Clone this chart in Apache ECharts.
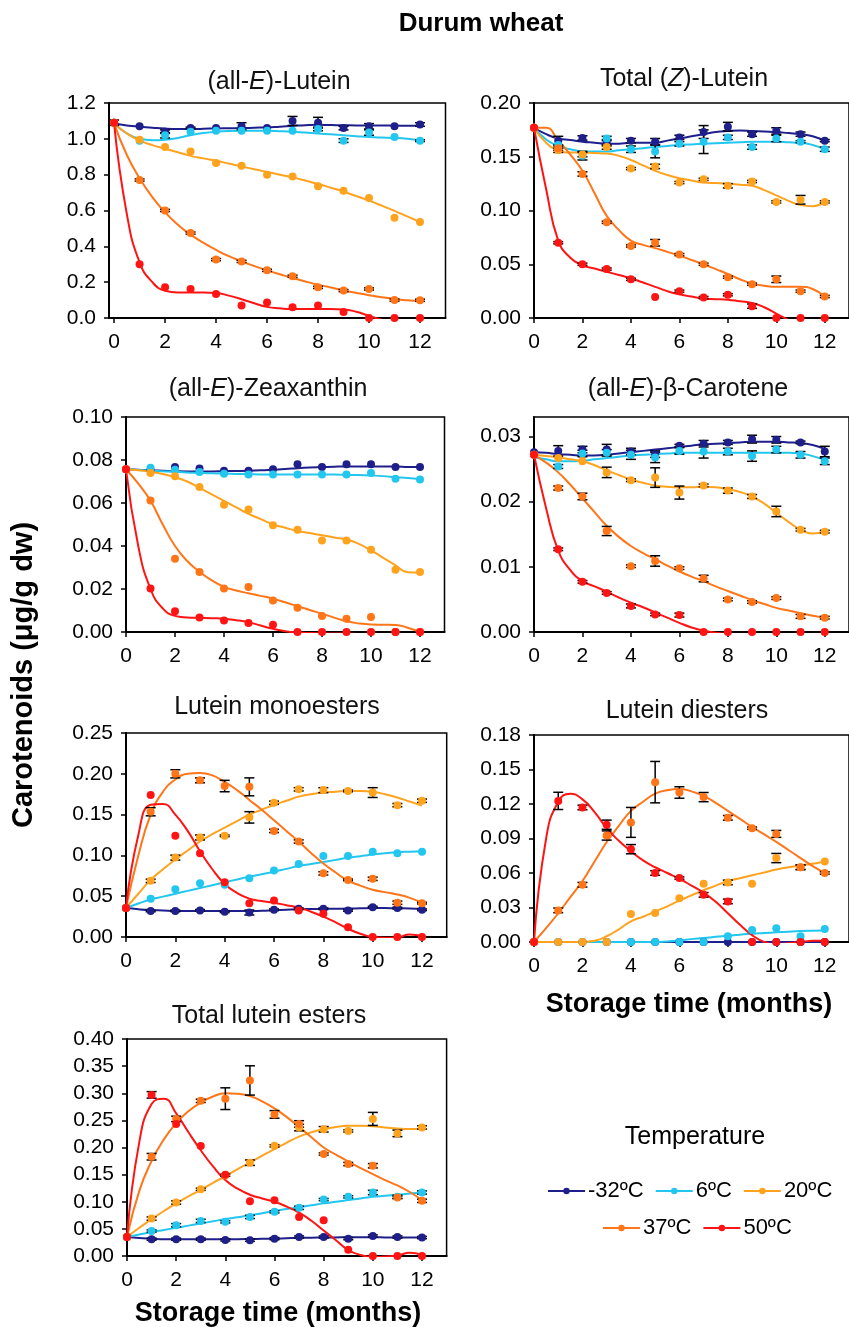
<!DOCTYPE html>
<html>
<head>
<meta charset="utf-8">
<script src="https://cdn.jsdelivr.net/npm/echarts@6/dist/echarts.min.js"></script>
<style>
  html, body { margin: 0; padding: 0; background: #fff; }
  #main { width: 849px; height: 1327px; }
</style>
</head>
<body>
<div id="main"></div>
<script>
const FONT = '"Liberation Sans", Arial, sans-serif';

// storage months, and the half-month positions where the fitted curves were read
const MONTHS = [0, 1, 2, 3, 4, 5, 6, 7, 8, 9, 10, 11, 12];
const CURVE_X = [0, 0.5, 1, 1.5, 2, 2.5, 3, 3.5, 4, 4.5, 5, 5.5, 6, 6.5, 7, 7.5, 8, 8.5, 9, 9.5, 10, 10.5, 11, 11.5, 12];
const MONTH_TICKS = [0, 2, 4, 6, 8, 10, 12];
const TEMPS = ['-32ºC', '6ºC', '20ºC', '37ºC', '50ºC'];
const COLORS = ['#1f1f8c', '#22c6ef', '#ffa31f', '#ff7518', '#ff1414'];
const NONE = [0, 0, 0, 0, 0, 0, 0, 0, 0, 0, 0, 0, 0];

// rows in every block: -32, 6, 20, 37, 50 ºC

// (all-E)-Lutein
const lutPts = [
  [1.09, 1.07, 1.04, 1.06, 1.06, 1.07, 1.06, 1.10, 1.09, 1.06, 1.07, 1.07, 1.08],
  [1.09, 0.99, 1.02, 1.04, 1.045, 1.045, 1.045, 1.045, 1.055, 0.99, 1.035, 1.01, 0.99],
  [1.09, 0.995, 0.955, 0.93, 0.865, 0.85, 0.80, 0.79, 0.735, 0.71, 0.67, 0.56, 0.536],
  [1.09, 0.77, 0.60, 0.474, 0.326, 0.316, 0.266, 0.233, 0.171, 0.153, 0.162, 0.10, 0.099],
  [1.09, 0.30, 0.171, 0.162, 0.134, 0.07, 0.087, 0.06, 0.07, 0.033, 0, 0, 0]
];
const lutFit = [
  [1.085, 1.075, 1.068, 1.062, 1.057, 1.055, 1.055, 1.056, 1.058, 1.059, 1.06, 1.062, 1.064, 1.068, 1.072, 1.076, 1.078, 1.077, 1.076, 1.075, 1.075, 1.074, 1.074, 1.073, 1.075],
  [1.085, 1.03, 1.0, 0.992, 0.995, 1.005, 1.02, 1.032, 1.04, 1.044, 1.045, 1.045, 1.045, 1.043, 1.04, 1.035, 1.03, 1.025, 1.02, 1.015, 1.01, 1.007, 1.005, 1.0, 0.99],
  [1.085, 1.03, 0.99, 0.965, 0.945, 0.925, 0.905, 0.891, 0.878, 0.862, 0.846, 0.83, 0.815, 0.8, 0.785, 0.767, 0.748, 0.727, 0.705, 0.681, 0.655, 0.627, 0.598, 0.567, 0.536],
  [1.085, 0.91, 0.78, 0.675, 0.59, 0.52, 0.465, 0.42, 0.38, 0.345, 0.316, 0.29, 0.266, 0.244, 0.223, 0.204, 0.186, 0.17, 0.154, 0.14, 0.127, 0.116, 0.106, 0.099, 0.093],
  [1.085, 0.58, 0.31, 0.2, 0.152, 0.143, 0.143, 0.143, 0.14, 0.125, 0.105, 0.082, 0.062, 0.054, 0.05, 0.05, 0.05, 0.05, 0.048, 0.035, 0.012, -0.01, -0.03, -0.05, -0.06]
];
const lutErr = [
  [0.015, 0, 0.01, 0.005, 0, 0.02, 0, 0.025, 0.03, 0.01, 0.015, 0, 0.01],
  [0, 0, 0.015, 0, 0, 0, 0, 0, 0.01, 0.01, 0.015, 0, 0.005],
  NONE,
  [0, 0.006, 0.006, 0.006, 0.006, 0.006, 0.006, 0.006, 0.006, 0.006, 0.006, 0.006, 0.006],
  NONE
];

// Total (Z)-Lutein
const zlutPts = [
  [0.177, 0.165, 0.1675, 0.163, 0.165, 0.164, 0.168, 0.173, 0.178, 0.171, 0.174, 0.171, 0.165],
  [0.177, 0.161, 0.151, 0.167, 0.157, 0.155, 0.162, 0.164, 0.168, 0.159, 0.167, 0.164, 0.157],
  [0.177, 0.156, 0.152, 0.159, 0.139, 0.141, 0.126, 0.129, 0.123, 0.127, 0.108, 0.11, 0.108],
  [0.177, 0.158, 0.134, 0.089, 0.067, 0.070, 0.059, 0.050, 0.038, 0.0315, 0.036, 0.025, 0.020],
  [0.177, 0.070, 0.050, 0.0455, 0.036, 0.0195, 0.025, 0.019, 0.0216, 0.011, 0, 0, 0]
];
const zlutFit = [
  [0.177, 0.171, 0.167, 0.1655, 0.164, 0.163, 0.162, 0.1622, 0.163, 0.163, 0.163, 0.165, 0.167, 0.169, 0.171, 0.173, 0.174, 0.1745, 0.174, 0.1735, 0.173, 0.172, 0.171, 0.169, 0.165],
  [0.177, 0.166, 0.16, 0.157, 0.155, 0.155, 0.155, 0.156, 0.157, 0.158, 0.159, 0.16, 0.161, 0.1615, 0.162, 0.1625, 0.163, 0.1635, 0.164, 0.164, 0.164, 0.1635, 0.163, 0.161, 0.157],
  [0.177, 0.163, 0.156, 0.154, 0.154, 0.1535, 0.153, 0.151, 0.147, 0.142, 0.137, 0.133, 0.13, 0.128, 0.126, 0.1255, 0.125, 0.124, 0.123, 0.119, 0.114, 0.109, 0.105, 0.104, 0.108],
  [0.177, 0.177, 0.165, 0.152, 0.137, 0.116, 0.095, 0.082, 0.072, 0.068, 0.065, 0.0615, 0.058, 0.054, 0.05, 0.0455, 0.041, 0.036, 0.032, 0.03, 0.029, 0.029, 0.029, 0.027, 0.02],
  [0.177, 0.12, 0.072, 0.056, 0.049, 0.046, 0.043, 0.04, 0.037, 0.033, 0.029, 0.025, 0.022, 0.02, 0.018, 0.0175, 0.017, 0.0155, 0.014, 0.01, 0.004, -0.002, -0.008, -0.012, -0.015]
];
const zlutErr = [
  [0, 0.004, 0.002, 0.003, 0.002, 0.003, 0.002, 0.006, 0.004, 0.002, 0.003, 0.002, 0.001],
  [0, 0, 0.004, 0.002, 0.003, 0.006, 0.002, 0.011, 0.002, 0.002, 0.003, 0.001, 0.002],
  [0, 0.002, 0.002, 0.002, 0.001, 0.002, 0.001, 0.001, 0.002, 0.001, 0.001, 0.004, 0.001],
  [0, 0.002, 0.002, 0.001, 0.001, 0.003, 0.001, 0.001, 0.001, 0.001, 0.003, 0.001, 0.001],
  [0, 0.001, 0.001, 0.001, 0.001, 0, 0.001, 0.001, 0.001, 0.002, 0, 0, 0]
];

// (all-E)-Zeaxanthin
const zeaPts = [
  [0.0757, 0.0755, 0.0767, 0.076, 0.075, 0.075, 0.0757, 0.078, 0.0767, 0.078, 0.078, 0.0767, 0.0767],
  [0.0757, 0.0764, 0.0755, 0.0744, 0.0736, 0.0733, 0.0733, 0.0733, 0.0733, 0.0733, 0.074, 0.0713, 0.0709],
  [0.0757, 0.074, 0.0724, 0.0674, 0.0592, 0.057, 0.0496, 0.0476, 0.0426, 0.0426, 0.0383, 0.029, 0.0279],
  [0.0757, 0.0612, 0.0341, 0.0279, 0.0202, 0.0209, 0.0147, 0.0113, 0.0074, 0.0062, 0.007, 0, 0],
  [0.0757, 0.0202, 0.0096, 0.0067, 0.0054, 0.0042, 0.0034, 0, 0, 0, 0, 0, 0]
];
const zeaFit = [
  [0.0757, 0.0755, 0.0752, 0.075, 0.0748, 0.0747, 0.0747, 0.0747, 0.0748, 0.0749, 0.075, 0.0752, 0.0755, 0.0758, 0.0762, 0.0765, 0.0767, 0.0769, 0.077, 0.077, 0.077, 0.077, 0.077, 0.0768, 0.0767],
  [0.0757, 0.0753, 0.075, 0.0748, 0.0745, 0.0742, 0.074, 0.0738, 0.0737, 0.0735, 0.0734, 0.0733, 0.0733, 0.0733, 0.0733, 0.0733, 0.0732, 0.0732, 0.0731, 0.073, 0.0728, 0.0725, 0.072, 0.0716, 0.071],
  [0.0757, 0.0752, 0.0745, 0.0735, 0.072, 0.07, 0.067, 0.064, 0.061, 0.058, 0.055, 0.0525, 0.05, 0.0485, 0.047, 0.046, 0.045, 0.044, 0.043, 0.041, 0.038, 0.0345, 0.031, 0.0278, 0.0277],
  [0.0757, 0.069, 0.061, 0.05, 0.04, 0.033, 0.028, 0.024, 0.021, 0.0193, 0.018, 0.0168, 0.0155, 0.0138, 0.012, 0.0102, 0.0085, 0.0067, 0.005, 0.004, 0.0035, 0.0034, 0.0033, 0.002, 0.0],
  [0.0757, 0.04, 0.02, 0.011, 0.0075, 0.0068, 0.0066, 0.0064, 0.0062, 0.0055, 0.0045, 0.003, 0.0015, 0.0004, -0.0002, -0.0005, -0.0006, -0.0007, -0.0008, -0.0009, -0.001, -0.001, -0.001, -0.001, -0.001]
];
const zeaErr = [NONE, NONE, NONE, NONE, NONE];

// (all-E)-β-Carotene
const carPts = [
  [0.0276, 0.0278, 0.028, 0.028, 0.0277, 0.0273, 0.0286, 0.0289, 0.0291, 0.0296, 0.0295, 0.0291, 0.0277],
  [0.0272, 0.0254, 0.0274, 0.0275, 0.0272, 0.0268, 0.0278, 0.0277, 0.0277, 0.027, 0.028, 0.0272, 0.0262],
  [0.0272, 0.0267, 0.0262, 0.0245, 0.0233, 0.0237, 0.0214, 0.0225, 0.0217, 0.0208, 0.0185, 0.0157, 0.0154],
  [0.0272, 0.0221, 0.0208, 0.0155, 0.0101, 0.0109, 0.0098, 0.0082, 0.005, 0.0046, 0.0052, 0.0024, 0.0022],
  [0.0272, 0.0127, 0.0077, 0.006, 0.004, 0.0027, 0.0026, 0, 0, 0, 0, 0, 0]
];
const carFit = [
  [0.0276, 0.0275, 0.0273, 0.0272, 0.0271, 0.0271, 0.0272, 0.0274, 0.0276, 0.0278, 0.028, 0.0282, 0.0284, 0.0286, 0.0288, 0.0289, 0.029, 0.0291, 0.0292, 0.0292, 0.0292, 0.0291, 0.029, 0.0287, 0.0281],
  [0.0268, 0.0265, 0.0262, 0.0262, 0.0263, 0.0265, 0.0267, 0.0269, 0.0271, 0.0272, 0.0273, 0.0274, 0.0275, 0.0275, 0.0275, 0.0275, 0.0275, 0.0275, 0.0275, 0.0275, 0.0275, 0.0275, 0.0274, 0.027, 0.0264],
  [0.0272, 0.027, 0.0268, 0.0265, 0.0262, 0.0256, 0.0248, 0.0241, 0.0234, 0.0229, 0.0225, 0.0223, 0.0222, 0.0222, 0.0223, 0.0222, 0.0219, 0.0215, 0.0208, 0.0197, 0.0183, 0.0169, 0.0157, 0.0151, 0.0155],
  [0.0272, 0.026, 0.0245, 0.0226, 0.0205, 0.0184, 0.0163, 0.0146, 0.0132, 0.0121, 0.0112, 0.0102, 0.0093, 0.0085, 0.0078, 0.007, 0.0063, 0.0056, 0.0049, 0.0043, 0.0037, 0.0033, 0.0029, 0.0025, 0.0022],
  [0.0272, 0.019, 0.0125, 0.0095, 0.0078, 0.007, 0.0062, 0.0053, 0.0045, 0.0038, 0.003, 0.0022, 0.0014, 0.0007, 0.0002, -0.0001, -0.0003, -0.0004, -0.0005, -0.0005, -0.0005, -0.0005, -0.0005, -0.0005, -0.0005]
];
const carErr = [
  [0, 0.0008, 0.0005, 0.0008, 0.0005, 0.0005, 0.0002, 0.0005, 0.0003, 0.0006, 0.0005, 0.0002, 0.0008],
  [0, 0.0003, 0.0005, 0.0005, 0.0007, 0.0008, 0.0005, 0.001, 0.0005, 0.0008, 0.0005, 0.0005, 0.0005],
  [0, 0, 0, 0.0008, 0.0002, 0.0015, 0.001, 0.0002, 0.0004, 0.0003, 0.0008, 0.0002, 0.0002],
  [0, 0.0003, 0.0005, 0.0007, 0.0002, 0.0008, 0.0002, 0.0005, 0.0002, 0.0002, 0.0002, 0.0003, 0.0002],
  [0, 0.0002, 0.0002, 0.0002, 0.0003, 0.0002, 0.0003, 0, 0, 0, 0, 0, 0]
];

// Lutein monoesters
const monoPts = [
  [0.0354, 0.032, 0.032, 0.0326, 0.031, 0.030, 0.0334, 0.0346, 0.0346, 0.0326, 0.0366, 0.0354, 0.0334],
  [0.0354, 0.0468, 0.0586, 0.066, 0.064, 0.072, 0.0814, 0.0896, 0.0993, 0.0993, 0.1046, 0.1026, 0.1046],
  [0.0354, 0.0688, 0.0973, 0.122, 0.124, 0.1466, 0.1645, 0.181, 0.18, 0.179, 0.177, 0.1616, 0.167],
  [0.0354, 0.1535, 0.200, 0.192, 0.185, 0.184, 0.13, 0.117, 0.078, 0.070, 0.0713, 0.042, 0.0415],
  [0.0354, 0.174, 0.124, 0.1026, 0.067, 0.0415, 0.0448, 0.0326, 0.0285, 0.0118, 0, 0, 0]
];
const monoFit = [
  [0.0354, 0.034, 0.033, 0.0325, 0.032, 0.032, 0.032, 0.0319, 0.0318, 0.0318, 0.0318, 0.0322, 0.0328, 0.0334, 0.034, 0.0343, 0.0345, 0.0347, 0.0348, 0.0352, 0.0355, 0.0354, 0.0352, 0.035, 0.0345],
  [0.0354, 0.041, 0.046, 0.0495, 0.053, 0.0565, 0.06, 0.0635, 0.067, 0.0705, 0.074, 0.077, 0.08, 0.0835, 0.087, 0.0895, 0.092, 0.0945, 0.097, 0.099, 0.101, 0.1025, 0.104, 0.1045, 0.105],
  [0.0354, 0.053, 0.07, 0.083, 0.095, 0.106, 0.117, 0.126, 0.134, 0.142, 0.15, 0.156, 0.162, 0.167, 0.172, 0.175, 0.177, 0.178, 0.179, 0.179, 0.178, 0.175, 0.171, 0.166, 0.161],
  [0.0354, 0.1, 0.15, 0.178, 0.193, 0.2, 0.201, 0.198, 0.19, 0.18, 0.168, 0.156, 0.143, 0.13, 0.117, 0.103, 0.09, 0.079, 0.069, 0.063, 0.058, 0.055, 0.052, 0.048, 0.042],
  [0.0354, 0.125, 0.162, 0.163, 0.15, 0.13, 0.105, 0.083, 0.065, 0.054, 0.047, 0.044, 0.042, 0.039, 0.036, 0.031, 0.025, 0.018, 0.01, 0.004, 0.0, -0.001, -0.0005, 0.003, 0.001]
];
const monoErr = [
  [0, 0.001, 0.001, 0.001, 0.001, 0.003, 0.001, 0.001, 0.001, 0.001, 0.001, 0.001, 0.001],
  NONE,
  [0, 0.002, 0.003, 0.003, 0.001, 0.007, 0.002, 0.002, 0.003, 0.001, 0.006, 0.002, 0.002],
  [0, 0.005, 0.005, 0.003, 0.007, 0.011, 0.002, 0.002, 0.002, 0.001, 0.002, 0.002, 0.001],
  NONE
];

// Lutein diesters
const diPts = [
  [0, 0, 0, 0, 0, 0, 0, 0, 0, 0, 0, 0, 0],
  [0, 0, 0, 0, 0, 0, 0, 0, 0.005, 0.0105, 0.012, 0.005, 0.0113],
  [0, 0, 0, 0, 0.0243, 0.0252, 0.038, 0.0506, 0.0518, 0.0506, 0.073, 0.065, 0.070],
  [0, 0.0275, 0.0498, 0.0926, 0.104, 0.139, 0.130, 0.126, 0.108, 0.099, 0.094, 0.065, 0.060],
  [0, 0.1227, 0.117, 0.102, 0.0807, 0.060, 0.0556, 0.041, 0.0353, 0, 0, 0, 0]
];
const diFit = [
  [0, 0, 0, 0, 0, 0, 0, 0, 0, 0, 0, 0, 0, 0, 0, 0, 0, 0, 0, 0, 0, 0, 0, 0, 0],
  [0, 0, 0, 0, 0, 0, 0, 0, 0, 0, 0, 0.0005, 0.0014, 0.0025, 0.0035, 0.0045, 0.0055, 0.0064, 0.0072, 0.0078, 0.0084, 0.009, 0.0095, 0.0098, 0.01],
  [0, 0, 0, 0, 0, 0.001, 0.005, 0.011, 0.018, 0.022, 0.0266, 0.031, 0.036, 0.0405, 0.045, 0.049, 0.053, 0.0555, 0.058, 0.0605, 0.063, 0.065, 0.0665, 0.068, 0.07],
  [0, 0.012, 0.025, 0.039, 0.053, 0.07, 0.087, 0.101, 0.114, 0.122, 0.129, 0.132, 0.133, 0.131, 0.127, 0.121, 0.114, 0.107, 0.1, 0.0935, 0.087, 0.08, 0.073, 0.066, 0.06],
  [0, 0.09, 0.122, 0.129, 0.124, 0.113, 0.099, 0.088, 0.079, 0.071, 0.065, 0.06, 0.055, 0.049, 0.043, 0.035, 0.025, 0.015, 0.006, 0.0, -0.002, -0.001, 0.0, 0.001, 0.001]
];
const diErr = [
  NONE,
  NONE,
  [0, 0, 0, 0, 0, 0, 0, 0, 0.002, 0, 0.004, 0.002, 0],
  [0, 0.002, 0.002, 0.004, 0.013, 0.018, 0.005, 0.004, 0.002, 0.001, 0.003, 0.002, 0.001],
  [0, 0.0075, 0.002, 0.004, 0.004, 0.002, 0.001, 0.002, 0.002, 0, 0, 0, 0]
];

// Total lutein esters
const estPts = [
  [0.035, 0.031, 0.031, 0.031, 0.0296, 0.029, 0.032, 0.035, 0.035, 0.032, 0.037, 0.035, 0.034],
  [0.035, 0.046, 0.0567, 0.0647, 0.063, 0.072, 0.0814, 0.0888, 0.104, 0.109, 0.117, 0.109, 0.117],
  [0.035, 0.069, 0.0986, 0.123, 0.149, 0.172, 0.203, 0.2367, 0.2336, 0.2305, 0.2527, 0.226, 0.237],
  [0.035, 0.183, 0.2527, 0.286, 0.290, 0.3236, 0.261, 0.2434, 0.188, 0.1695, 0.1664, 0.108, 0.1017],
  [0.035, 0.297, 0.2434, 0.2028, 0.150, 0.101, 0.1029, 0.072, 0.066, 0.0117, 0, 0, 0]
];
const estFit = [
  [0.035, 0.033, 0.032, 0.031, 0.031, 0.031, 0.031, 0.031, 0.031, 0.031, 0.0312, 0.0316, 0.032, 0.0328, 0.0335, 0.0338, 0.034, 0.0343, 0.0345, 0.0345, 0.0345, 0.0342, 0.034, 0.034, 0.034],
  [0.035, 0.0395, 0.044, 0.048, 0.052, 0.056, 0.06, 0.064, 0.068, 0.0715, 0.075, 0.079, 0.083, 0.0865, 0.09, 0.0935, 0.097, 0.1, 0.103, 0.106, 0.109, 0.111, 0.113, 0.115, 0.117],
  [0.035, 0.052, 0.068, 0.083, 0.097, 0.11, 0.122, 0.135, 0.147, 0.16, 0.172, 0.185, 0.197, 0.209, 0.22, 0.228, 0.234, 0.238, 0.24, 0.24, 0.239, 0.237, 0.235, 0.234, 0.235],
  [0.035, 0.12, 0.175, 0.215, 0.245, 0.267, 0.283, 0.294, 0.3, 0.299, 0.295, 0.285, 0.272, 0.256, 0.238, 0.219, 0.2, 0.187, 0.174, 0.162, 0.151, 0.14, 0.13, 0.118, 0.103],
  [0.035, 0.21, 0.28, 0.29, 0.263, 0.228, 0.195, 0.165, 0.14, 0.124, 0.113, 0.106, 0.1, 0.091, 0.08, 0.065, 0.047, 0.029, 0.011, 0.002, -0.002, -0.001, 0.001, 0.006, 0.002]
];
const estErr = [
  [0, 0.002, 0.002, 0.002, 0.002, 0.002, 0.002, 0.002, 0.002, 0.002, 0.002, 0.002, 0.002],
  [0, 0.002, 0.003, 0.003, 0.002, 0.003, 0.002, 0.003, 0.002, 0.002, 0.004, 0.003, 0.003],
  [0, 0.003, 0.003, 0.002, 0.002, 0.005, 0.002, 0.006, 0.005, 0.002, 0.012, 0.006, 0.003],
  [0, 0.006, 0.005, 0.003, 0.02, 0.027, 0.007, 0.006, 0.002, 0.003, 0.004, 0.002, 0.003],
  [0, 0.006, 0, 0, 0, 0, 0, 0, 0, 0, 0, 0, 0]
];

const PANELS = [
  { title: '(all-{i|E})-Lutein', pts: lutPts, fit: lutFit, err: lutErr, yMax: 1.2, yTicks: [0, 0.2, 0.4, 0.6, 0.8, 1.0, 1.2], dec: 1 },
  { title: 'Total ({i|Z})-Lutein', pts: zlutPts, fit: zlutFit, err: zlutErr, yMax: 0.2, yTicks: [0, 0.05, 0.10, 0.15, 0.20], dec: 2 },
  { title: '(all-{i|E})-Zeaxanthin', pts: zeaPts, fit: zeaFit, err: zeaErr, yMax: 0.1, yTicks: [0, 0.02, 0.04, 0.06, 0.08, 0.10], dec: 2 },
  { title: '(all-{i|E})-β-Carotene', pts: carPts, fit: carFit, err: carErr, yMax: 0.033, yTicks: [0, 0.01, 0.02, 0.03], dec: 2 },
  { title: 'Lutein monoesters', pts: monoPts, fit: monoFit, err: monoErr, yMax: 0.25, yTicks: [0, 0.05, 0.10, 0.15, 0.20, 0.25], dec: 2 },
  { title: 'Lutein diesters', pts: diPts, fit: diFit, err: diErr, yMax: 0.18, yTicks: [0, 0.03, 0.06, 0.09, 0.12, 0.15, 0.18], dec: 2 },
  { title: 'Total lutein esters', pts: estPts, fit: estFit, err: estErr, yMax: 0.4, yTicks: [0, 0.05, 0.10, 0.15, 0.20, 0.25, 0.30, 0.35, 0.40], dec: 2 }
];

// plot boxes in pixels, and where each panel title sits
const BOXES = [
  { left: 109, top: 103, width: 336.5, height: 215, xMin: -0.2, tx: 279, ty: 82 },
  { left: 534, top: 103, width: 319.6, height: 215, xMin: 0, tx: 684, ty: 79 },
  { left: 126, top: 417, width: 318.5, height: 215, xMin: 0, tx: 268, ty: 389 },
  { left: 534, top: 417, width: 319.6, height: 215, xMin: 0, tx: 688, ty: 389 },
  { left: 126, top: 733, width: 320.7, height: 204, xMin: 0, tx: 277, ty: 707 },
  { left: 534, top: 735, width: 319.6, height: 207, xMin: 0, tx: 687, ty: 711 },
  { left: 127, top: 1039, width: 319.6, height: 217, xMin: 0, tx: 269, ty: 1016 }
];

function renderErrorBar(params, api) {
  const x = api.value(0), y = api.value(1), e = api.value(2);
  const hi = api.coord([x, y + e]);
  const lo = api.coord([x, y - e]);
  const cap = 5;
  const style = { stroke: '#000', lineWidth: 1.5 };
  return {
    type: 'group',
    children: [
      { type: 'line', shape: { x1: hi[0], y1: hi[1], x2: lo[0], y2: lo[1] }, style: style },
      { type: 'line', shape: { x1: hi[0] - cap, y1: hi[1], x2: hi[0] + cap, y2: hi[1] }, style: style },
      { type: 'line', shape: { x1: lo[0] - cap, y1: lo[1], x2: lo[0] + cap, y2: lo[1] }, style: style }
    ]
  };
}

const grid = [], xAxis = [], yAxis = [], series = [], graphic = [];
const axisLine = { show: true, onZero: false, lineStyle: { color: '#000', width: 2 } };

PANELS.forEach(function (p, i) {
  const b = BOXES[i];
  grid.push({
    left: b.left, top: b.top, width: b.width, height: b.height,
    show: true, borderColor: '#000', borderWidth: 1.5, backgroundColor: 'transparent'
  });
  xAxis.push({
    type: 'value', gridIndex: i, min: b.xMin, max: 13,
    axisLine: axisLine,
    axisTick: { show: true, length: 5, customValues: MONTH_TICKS, lineStyle: { color: '#000', width: 1.5 } },
    axisLabel: { customValues: MONTH_TICKS, fontSize: 21, fontFamily: FONT, color: '#000', margin: 14 },
    splitLine: { show: false }
  });
  yAxis.push({
    type: 'value', gridIndex: i, min: 0, max: p.yMax,
    axisLine: axisLine,
    axisTick: { show: true, length: 5, customValues: p.yTicks, lineStyle: { color: '#000', width: 1.5 } },
    axisLabel: {
      customValues: p.yTicks, fontSize: 21, fontFamily: FONT, color: '#000', margin: 13,
      formatter: function (v) { return Number(v).toFixed(p.dec); }
    },
    splitLine: { show: false }
  });

  // fitted curves first, so the legend takes its icon from them
  TEMPS.forEach(function (t, s) {
    series.push({
      name: t, type: 'line', xAxisIndex: i, yAxisIndex: i,
      smooth: 0.5, showSymbol: false, symbol: 'circle', symbolSize: 8,
      lineStyle: { color: COLORS[s], width: 2 }, itemStyle: { color: COLORS[s] },
      z: 2, silent: true, clip: true,
      data: CURVE_X.map(function (x, k) { return [x, p.fit[s][k]]; })
    });
  });
  TEMPS.forEach(function (t, s) {
    const bars = [];
    MONTHS.forEach(function (m, k) {
      if (p.err[s][k] > 0) bars.push([m, p.pts[s][k], p.err[s][k]]);
    });
    series.push({
      name: t, type: 'custom', xAxisIndex: i, yAxisIndex: i,
      renderItem: renderErrorBar, z: 3, silent: true, data: bars
    });
    series.push({
      name: t, type: 'scatter', xAxisIndex: i, yAxisIndex: i,
      symbol: 'circle', symbolSize: 8, itemStyle: { color: COLORS[s], opacity: 1 },
      z: 4, silent: true,
      data: MONTHS.map(function (m, k) { return [m, p.pts[s][k]]; })
    });
  });

  graphic.push({
    type: 'text', x: b.tx, y: b.ty,
    style: {
      text: p.title, textAlign: 'center', textVerticalAlign: 'middle', align: 'center', verticalAlign: 'middle',
      font: '25px ' + FONT, fill: '#111',
      rich: { i: { fontStyle: 'italic', fontSize: 25, fontFamily: FONT, fill: '#111' } }
    }
  });
});

function label(text, x, y, font, rotation) {
  return {
    type: 'text', x: x, y: y, rotation: rotation || 0,
    style: { text: text, textAlign: 'center', textVerticalAlign: 'middle', align: 'center', verticalAlign: 'middle', font: font, fill: '#000' }
  };
}
graphic.push(label('Durum wheat', 481, 24, 'bold 26px ' + FONT));
graphic.push(label('Carotenoids (μg/g dw)', 24, 675, 'bold 29px ' + FONT, Math.PI / 2));
graphic.push(label('Storage time (months)', 689, 1005, 'bold 27px ' + FONT));
graphic.push(label('Storage time (months)', 278, 1314, 'bold 27px ' + FONT));
graphic.push(label('Temperature', 695, 1137, '25px ' + FONT));

const legendBase = {
  orient: 'horizontal', itemWidth: 37, itemHeight: 8, itemGap: 11, selectedMode: false,
  textStyle: { fontSize: 22, fontFamily: FONT, color: '#000', padding: [0, 0, 0, -2] }
};

const chart = echarts.init(document.getElementById('main'), null, { renderer: 'canvas' });
chart.setOption({
  animation: false,
  backgroundColor: '#fff',
  grid: grid,
  xAxis: xAxis,
  yAxis: yAxis,
  legend: [
    Object.assign({}, legendBase, { data: TEMPS.slice(0, 3), left: 542, top: 1175 }),
    Object.assign({}, legendBase, { data: TEMPS.slice(3), left: 597, top: 1212 })
  ],
  graphic: graphic,
  series: series
});
</script>
</body>
</html>
